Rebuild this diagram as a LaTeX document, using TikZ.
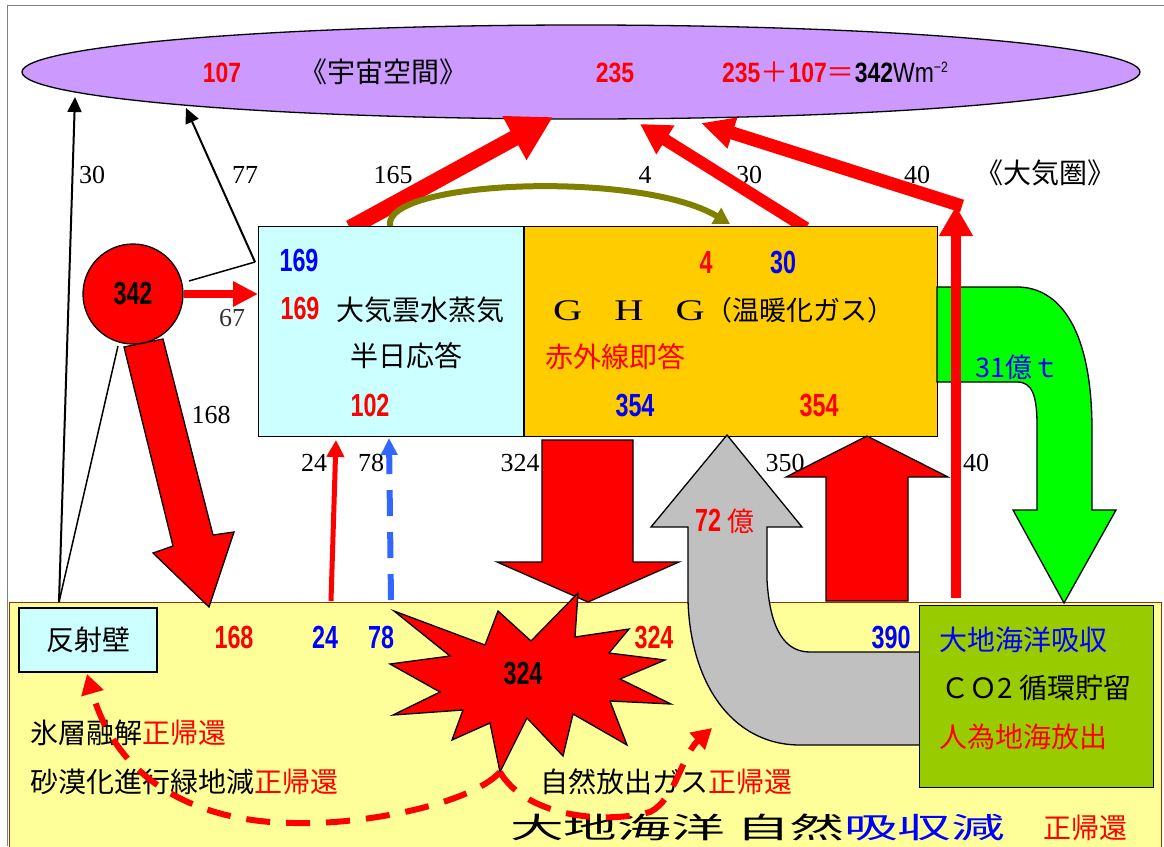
\documentclass[tikz,border=0pt]{standalone}
\usepackage{fontspec}
\usetikzlibrary{arrows.meta,shapes.geometric}
\newfontfamily\jp{Noto Sans CJK JP}
\newfontfamily\jpwide[FakeStretch=1.85]{Noto Sans CJK JP}
\newfontfamily\numf[FakeStretch=0.73]{Liberation Sans}
\newfontfamily\numfE[FakeStretch=0.82]{Liberation Sans}
\newfontfamily\ghgf[FakeStretch=1.35]{Liberation Serif}
\newfontfamily\labf{Liberation Serif}
\definecolor{skyc}{HTML}{CCFFFF}
\definecolor{ghgc}{HTML}{FFCC00}
\definecolor{spacec}{HTML}{CC99FF}
\definecolor{groundc}{HTML}{FFFF99}
\definecolor{groundb}{HTML}{993300}
\definecolor{boxg}{HTML}{99CC00}
\definecolor{arrg}{HTML}{00FF00}
\definecolor{grayarr}{HTML}{C0C0C0}
\definecolor{olivec}{HTML}{808000}
\definecolor{dashblue}{HTML}{3366FF}
\begin{document}
\begin{tikzpicture}[x=1pt,y=-1pt,
  jp/.style={font=\jp\fontsize{28}{30}\selectfont,inner sep=0pt},
  num/.style={font=\numf\bfseries\fontsize{32}{34}\selectfont,inner sep=0pt},
  numE/.style={font=\numfE\bfseries\fontsize{28}{30}\selectfont,inner sep=0pt},
  lab/.style={font=\labf\fontsize{26}{28}\selectfont,inner sep=0pt},
  outl/.style={draw=black,line width=1.3pt},
  thinarr/.style={draw=black,line width=2pt,-{Triangle[length=15pt,width=14pt]}},
  dashr/.style={draw=red,line width=6pt,dash pattern=on 24pt off 16pt,-{Triangle[length=20pt,width=22pt]}},
  ]
\useasboundingbox (0,0) rectangle (1164,846);
\clip (0,0) rectangle (1164,846);
% frame
\draw[gray,line width=1pt] (1164,5) -- (7,5) -- (7,846);
% ground
\node[draw=groundb,line width=1.2pt,fill=groundc,minimum width=1152pt,minimum height=260pt,anchor=north west,inner sep=0] (ground) at (9,602) {};
% space ellipse
\node[outl,fill=spacec,ellipse,minimum width=1118pt,minimum height=94pt,inner sep=0] (space) at (581,72) {};
\node[numE,text=red,anchor=base] (t107) at (222,82) {107};
\node[jp,anchor=base] (tspace) at (383,82) {《宇宙空間》};
\node[numE,text=red,anchor=base] (t235) at (615,82) {235};
\node[numE,anchor=base west] (tform) at (722,82) {\textcolor{red}{235{\jp\mdseries ＋}107{\jp\mdseries ＝}}342{\mdseries Wm\raisebox{10pt}{\fontsize{15}{15}\selectfont −2}}};
% labels
\node[lab,anchor=base] (l30a) at (92,183) {30};
\node[lab,anchor=base] (l77) at (245,183) {77};
\node[lab,anchor=base] (l165) at (393,183) {165};
\node[lab,anchor=base] (l4) at (645,183) {4};
\node[lab,anchor=base] (l30b) at (749,183) {30};
\node[lab,anchor=base] (l40) at (917,183) {40};
\node[jp,anchor=base west] (tatm) at (975,183) {《大気圏》};
\node[lab,anchor=base,text=black!80] (l67) at (232,326) {67};
\node[lab,anchor=base] (l168) at (211,423) {168};
\node[lab,anchor=base] (l24) at (314,471) {24};
\node[lab,anchor=base] (l78) at (371,471) {78};
\node[lab,anchor=base] (l324) at (520,471) {324};
\node[lab,anchor=base] (l350) at (785,471) {350};
\node[lab,anchor=base] (l40b) at (976,471) {40};
% coordinates
\coordinate (a165s) at (350,228); \coordinate (a165e) at (553,117);
\coordinate (a30s) at (806,228); \coordinate (a30e) at (640,124);
\coordinate (a40s) at (962,206); \coordinate (a40e) at (701,123);
\coordinate (v40s) at (956,598); \coordinate (v40e) at (956,206);
\coordinate (wallTop) at (59,602); \coordinate (r30e) at (75,97);
\coordinate (sunLow) at (118,346);
\coordinate (sunR) at (189,281); \coordinate (corner) at (255,262); \coordinate (r77e) at (186,108);
\coordinate (olS) at (390,226); \coordinate (olE) at (730,224);
\coordinate (a24s) at (331,601); \coordinate (a24e) at (336,440);
\coordinate (a78s) at (391,600); \coordinate (a78e) at (389,438);
\coordinate (sbTip) at (500,772);
\coordinate (wallArr) at (87,674); \coordinate (gasArr) at (712,728);
% red arrows to space (behind boxes)
\draw[draw=red,line width=16pt,-{Triangle[length=44pt,width=47pt]}] (a165s) -- (a165e);
\draw[draw=red,line width=12pt,-{Triangle[length=30pt,width=32pt]}] (a30s) -- (a30e);
\draw[draw=red,line width=13pt,-{Triangle[length=33pt,width=30pt]}] (a40s) -- (a40e);
% thin black reflections
\draw[thinarr] (wallTop) -- (r30e);
\draw[black,line width=1.5pt] (sunLow) -- (wallTop);
\draw[black,line width=1.5pt] (sunR) -- (corner);
\draw[thinarr] (corner) -- (r77e);
% boxes
\node[outl,fill=skyc,minimum width=265pt,minimum height=210pt,anchor=north west,inner sep=0] (atm) at (258,226) {};
\node[outl,fill=ghgc,minimum width=413pt,minimum height=210pt,anchor=north west,inner sep=0] (ghg) at (524,226) {};
% green arrow
\draw[outl,fill=arrg] (937,287) -- (1017,287) .. controls (1060,287) and (1092,330) .. (1092,430) -- (1092,510) -- (1116,510) -- (1064,603) -- (1013,510) -- (1037,510) -- (1037,425) .. controls (1037,395) and (1032,382) .. (1017,382) -- (937,382) -- cycle;
\node[anchor=base west,inner sep=0,font=\jp\fontsize{27}{29}\selectfont,text=blue] (t31) at (975,377) {31億ｔ};
% vertical red 40
\draw[draw=red,line width=10pt,-{Triangle[length=30pt,width=32pt]}] (v40s) -- (v40e);
% olive arrow
\draw[draw=olivec,line width=6pt,-{Triangle[length=16pt,width=18pt]}] (olS) .. controls (382,180) and (640,170) .. (olE);
% box texts
\node[num,text=blue,anchor=base] (c169b) at (299,271.5) {169};
\node[num,text=red,anchor=base] (c169r) at (300,319.5) {169};
\node[jp,anchor=base west] (tcloud) at (336,320) {大気雲水蒸気};
\node[jp,anchor=base west] (thalf) at (350,366) {半日応答};
\node[num,text=red,anchor=base] (c102) at (370,416.5) {102};
\node[num,text=red,anchor=base] (g4) at (706,273.5) {4};
\node[num,text=blue,anchor=base] (g30) at (783,273.5) {30};
\node[anchor=base west,inner sep=0,font=\ghgf\fontsize{30}{32}\selectfont] (tghg) at (553,320) {G\hspace{32pt}H\hspace{32pt}G};
\node[anchor=base west,inner sep=0,font=\jp\fontsize{27}{29}\selectfont] (tghg2) at (705,320) {（温暖化ガス）};
\node[jp,anchor=base west,text=red] (tir) at (545,367) {赤外線即答};
\node[num,text=blue,anchor=base] (g354b) at (635,416.5) {354};
\node[num,text=red,anchor=base] (g354r) at (819,416.5) {354};
% sun circle
\node[outl,fill=red,circle,minimum size=100pt,inner sep=0,font=\numf\bfseries\fontsize{32}{34}\selectfont] (sun) at (133,294) {342};
\draw[draw=red,line width=8pt,-{Triangle[length=25pt,width=24pt]}] (sun.east) -- (sun.east -| atm.west);
% 168 arrow
\draw[outl,fill=red] (124,347) -- (163,339) -- (213,535) -- (234,532) -- (209,607) -- (153,553) -- (173,546) -- cycle;
% 24 and 78 arrows
\draw[draw=red,line width=5pt,-{Triangle[length=17pt,width=17pt]}] (a24s) -- (a24e);
\draw[draw=dashblue,line width=6pt,dash pattern=on 26pt off 16pt,-{Triangle[length=17pt,width=16pt]}] (a78s) -- (a78e);
% 324 down arrow
\draw[outl,fill=red] (542,440) -- (633,440) -- (633,562) -- (679,562) -- (588,602) -- (497,562) -- (542,562) -- cycle;
% gray arrow
\draw[outl,fill=grayarr] (727,435) -- (802,527) -- (767,527) -- (767,580) .. controls (770,630) and (785,652) .. (810,652) -- (921,652) -- (921,745) -- (800,745) .. controls (730,745) and (690,680) .. (688,600) -- (688,527) -- (651,527) -- cycle;
\node[anchor=base west,inner sep=0,text=red] (t72) at (695,531) {{\numf\bfseries\fontsize{32}{34}\selectfont 72}\hspace{6pt}{\jp\fontsize{27}{29}\selectfont 億}};
% 350 up arrow
\draw[outl,fill=red] (867,436) -- (948,477) -- (908,477) -- (908,601) -- (826,601) -- (826,477) -- (786,477) -- cycle;
% wall and sink boxes
\node[outl,fill=skyc,minimum width=138pt,minimum height=64pt,inner sep=0,font=\jp\fontsize{28}{30}\selectfont] (wall) at (88,640) {反射壁};
\node[outl,fill=boxg,minimum width=234pt,minimum height=182pt,anchor=north west,inner sep=0] (sink) at (919,605) {};
\node[jp,anchor=base west,text=blue] (s1) at (939,650.5) {大地海洋吸収};
\node[jp,anchor=base west] (s2) at (941,698.5) {ＣＯ2 循環貯留};
\node[jp,anchor=base west,text=red] (s3) at (939,747.5) {人為地海放出};
% starburst
\draw[outl,fill=red] (394,611) -- (485,645) -- (498,611) -- (531,641) -- (578,593) -- (575,637) -- (629,629) -- (609,653) -- (665,660) -- (620,679) -- (671,704) -- (610,701) -- (627,745) -- (573,714) -- (563,756) -- (527,718) -- (sbTip) -- (490,723) -- (452,740) -- (463,710) -- (393,715) -- (440,692) -- (390,664) -- (450,656) -- cycle;
\node[num] (sb) at (523,673) {324};
% ground numbers
\node[num,text=red,anchor=base] (n168) at (234,648.5) {168};
\node[num,text=blue,anchor=base] (n24) at (325,648.5) {24};
\node[num,text=blue,anchor=base] (n78) at (381,648.5) {78};
\node[num,text=red,anchor=base] (n324) at (654,648.5) {324};
\node[num,text=blue,anchor=base] (n390) at (891,648.5) {390};
% bottom texts
\node[jp,anchor=base west] (b1) at (30,743.5) {氷層融解\textcolor{red}{正帰還}};
\node[jp,anchor=base west] (b2) at (30,792.5) {砂漠化進行緑地減\textcolor{red}{正帰還}};
\node[jp,anchor=base west] (b3) at (540,792.5) {自然放出ガス\textcolor{red}{正帰還}};
\node[anchor=base west,inner sep=0,font=\jpwide\fontsize{29}{31}\selectfont] (b4) at (510,838) {大地海洋 自然\textcolor{blue}{吸収減}};
\node[jp,anchor=base west,text=red] (b5) at (1043,838.5) {正帰還};
% dashed feedback arrows
\draw[dashr] (sbTip) .. controls (470,805) and (360,825) .. (296,823) .. controls (210,823) and (120,790) .. (wallArr);
\draw[dashr] (sbTip) .. controls (525,815) and (600,825) .. (650,812) .. controls (675,800) and (682,755) .. (gasArr);
\end{tikzpicture}
\end{document}
